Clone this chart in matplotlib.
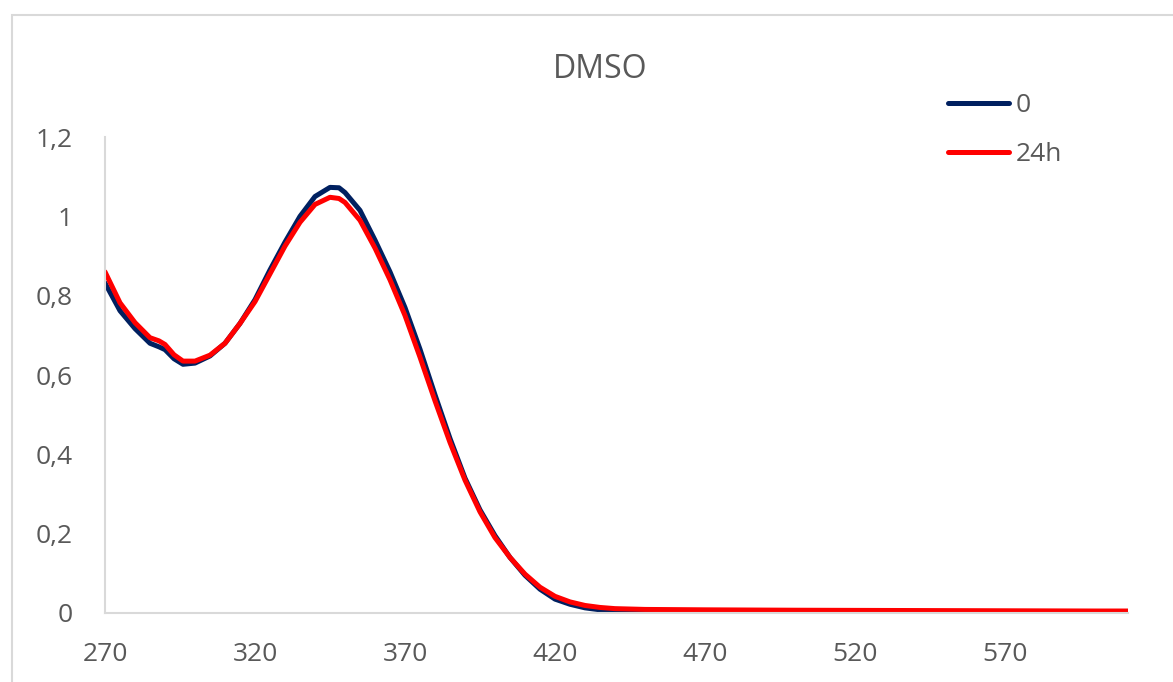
import matplotlib
matplotlib.use("Agg")
import matplotlib.pyplot as plt
import matplotlib.ticker as ticker
from matplotlib.patches import Rectangle

# ─────────────────────────────────────────────────────────────────────────────
# Data — absorbance spectra
# ─────────────────────────────────────────────────────────────────────────────
wavelength = [270, 275, 280, 285, 288, 290, 293, 296, 300, 305, 310, 315, 320,
              325, 330, 335, 340, 345, 348, 350, 355, 360, 365, 370, 375, 380,
              385, 390, 395, 400, 405, 410, 415, 420, 425, 430, 435, 440, 450,
              470, 500, 550, 600, 611]

abs_0h = [0.832, 0.762, 0.717, 0.680, 0.671, 0.664, 0.641, 0.627, 0.630, 0.648,
          0.680, 0.730, 0.790, 0.865, 0.935, 1.000, 1.050, 1.073, 1.072, 1.060,
          1.015, 0.940, 0.860, 0.770, 0.665, 0.550, 0.440, 0.340, 0.260, 0.195,
          0.140, 0.095, 0.060, 0.035, 0.022, 0.013, 0.008, 0.006, 0.004, 0.004,
          0.003, 0.002, 0.001, 0.000]

abs_24h = [0.860, 0.782, 0.732, 0.694, 0.686, 0.677, 0.651, 0.635, 0.635, 0.650,
           0.680, 0.730, 0.785, 0.855, 0.925, 0.985, 1.030, 1.048, 1.045, 1.035,
           0.990, 0.920, 0.840, 0.750, 0.645, 0.535, 0.430, 0.335, 0.255, 0.190,
           0.140, 0.098, 0.065, 0.042, 0.028, 0.019, 0.014, 0.011, 0.009, 0.008,
           0.007, 0.006, 0.005, 0.005]

series_labels = ["0", "24h"]
x_ticks = [270, 320, 370, 420, 470, 520, 570]
y_ticks = [0, 0.2, 0.4, 0.6, 0.8, 1.0, 1.2]

# Design tokens
_NAVY = "#002060"
_RED = "#FF0000"
_TEXT = "#595959"
_AXIS = "#D9D9D9"
_FONT = ["Open Sans", "DejaVu Sans"]
_TICK_SZ = 19

plt.rcParams["font.family"] = _FONT

fig = plt.figure(figsize=(11.73, 6.82), dpi=100)
fig.patch.set_facecolor("white")

# chart-area frame (Excel style), cropped at right / bottom
fig.patches.append(Rectangle((12 / 1173, -0.05), 1.1, 1 - 15 / 682 + 0.05,
                             transform=fig.transFigure, fill=False,
                             edgecolor="#D9D9D9", linewidth=1.5))

ax = fig.add_axes([105 / 1173, 1 - 613 / 682, 1023 / 1173, 476 / 682])

ax.plot(wavelength, abs_0h, color=_NAVY, linewidth=3.6,
        solid_capstyle="round", solid_joinstyle="round",
        label=series_labels[0])
ax.plot(wavelength, abs_24h, color=_RED, linewidth=3.6,
        solid_capstyle="round", solid_joinstyle="round",
        label=series_labels[1])

ax.set_xlim(270, 611)
ax.set_ylim(0, 1.2)
ax.set_xticks(x_ticks)
ax.set_yticks(y_ticks)
ax.yaxis.set_major_formatter(
    ticker.FuncFormatter(lambda y, _: f"{y:g}".replace(".", ","))
)
ax.tick_params(length=0, labelsize=_TICK_SZ, labelcolor=_TEXT)
ax.tick_params(axis="x", pad=21)
ax.tick_params(axis="y", pad=23)

for side in ("top", "right"):
    ax.spines[side].set_visible(False)
ax.spines["left"].set_color(_AXIS)
ax.spines["left"].set_linewidth(1.5)
ax.spines["bottom"].set_color(_AXIS)
ax.spines["bottom"].set_linewidth(1.5)

fig.text(600 / 1173, 1 - 70 / 682, "DMSO", ha="center", va="center",
         fontsize=23, color=_TEXT)

leg = ax.legend(loc="upper left", bbox_to_anchor=(935 / 1173, 1 - 80 / 682),
                bbox_transform=fig.transFigure, frameon=False,
                fontsize=_TICK_SZ, handlelength=2.3, handletextpad=0.25,
                labelspacing=0.9, borderpad=0)
for txt in leg.get_texts():
    txt.set_color(_TEXT)

fig.savefig("out.png", dpi=100, facecolor="white")
